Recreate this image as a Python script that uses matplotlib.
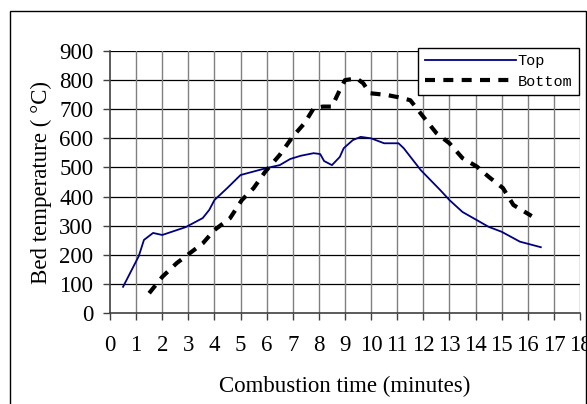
import matplotlib
matplotlib.use("Agg")
import matplotlib.pyplot as plt
from matplotlib.patches import Rectangle

# Top thermocouple (minutes, degC)
top_t = [0.5, 1.1, 1.3, 1.65, 2.0, 2.9, 3.55, 3.8, 4.0, 4.5, 5.0, 6.0, 6.5, 6.9, 7.3,
         7.8, 8.05, 8.2, 8.5, 8.8, 8.95, 9.3, 9.6, 10.0, 10.5, 11.05, 11.25, 11.9,
         12.65, 13.0, 13.5, 14.05, 14.5, 15.0, 15.7, 16.5]
top_T = [90, 195, 251, 275, 268, 295, 326, 354, 388, 430, 474, 498, 508, 529, 540,
         549, 546, 522, 508, 536, 566, 594, 605, 600, 583, 583, 566, 491,
         422, 388, 347, 319, 296, 279, 245, 226]

# Bottom thermocouple
bot_t = [1.5, 2.0, 2.55, 3.05, 3.55, 4.0, 4.6, 5.05, 5.5, 5.95, 6.5, 7.0, 7.45, 7.8,
         8.15, 8.5, 8.8, 9.0, 9.45, 9.7, 9.95, 10.6, 11.05, 11.5, 12.0, 12.5, 13.0,
         13.5, 14.05, 14.5, 15.05, 15.45, 16.15]
bot_T = [68, 124, 171, 205, 239, 285, 326, 388, 429, 486, 543, 606, 652, 703,
         709, 709, 766, 800, 806, 789, 755, 749, 741, 731, 674, 618, 583,
         532, 503, 468, 429, 371, 333]

plt.rcParams['font.family'] = ['Liberation Serif', 'DejaVu Serif']
fs = 16.5

fig = plt.figure(figsize=(5.87, 4.04), dpi=100)
ax = fig.add_axes([110/587, 1-313/404, 470/587, 262/404])

# outer frame of the chart
fig.patches.append(Rectangle((10/587, -0.05), 576/587, 1.05 - 11/404, transform=fig.transFigure,
                             fill=False, edgecolor='black', lw=1.0))

ax.plot(top_t, top_T, color='#000080', lw=1.3, label='Top')
ax.plot(bot_t, bot_T, color='black', lw=3.0, linestyle=(0, (2.4, 2.0)),
        dash_capstyle='butt', label='Bottom')

ax.set_xlim(0, 18)
ax.set_ylim(0, 900)
ax.set_xticks(range(0, 19))
ax.set_yticks(range(0, 901, 100))

for y in range(100, 901, 100):
    ax.axhline(y, color='black', lw=0.9, zorder=0.5)
for x in range(1, 19):
    ax.axvline(x, color='#808080', lw=1.0, zorder=0.5)

for s in ['top', 'right']:
    ax.spines[s].set_visible(False)
for s in ['left', 'bottom']:
    ax.spines[s].set_color('#404040')
    ax.spines[s].set_linewidth(1.2)

ax.tick_params(axis='both', direction='out', length=5, width=1, color='#404040', labelsize=fs)
ax.tick_params(axis='x', pad=11)
ax.tick_params(axis='y', pad=7)

ax.set_xlabel('Combustion time (minutes)', fontsize=fs, labelpad=14)
ax.set_ylabel('Bed temperature ( °C)', fontsize=fs, labelpad=5)

leg = ax.legend(loc='upper right', bbox_to_anchor=(0.997, 1.01), borderaxespad=0,
                prop={'family': 'Liberation Mono', 'size': 11}, handlelength=6.0,
                handletextpad=0.1, fancybox=False, framealpha=1, edgecolor='black',
                borderpad=0.4, labelspacing=0.4)
leg.get_frame().set_linewidth(1.0)

fig.savefig('out.png', dpi=100)
